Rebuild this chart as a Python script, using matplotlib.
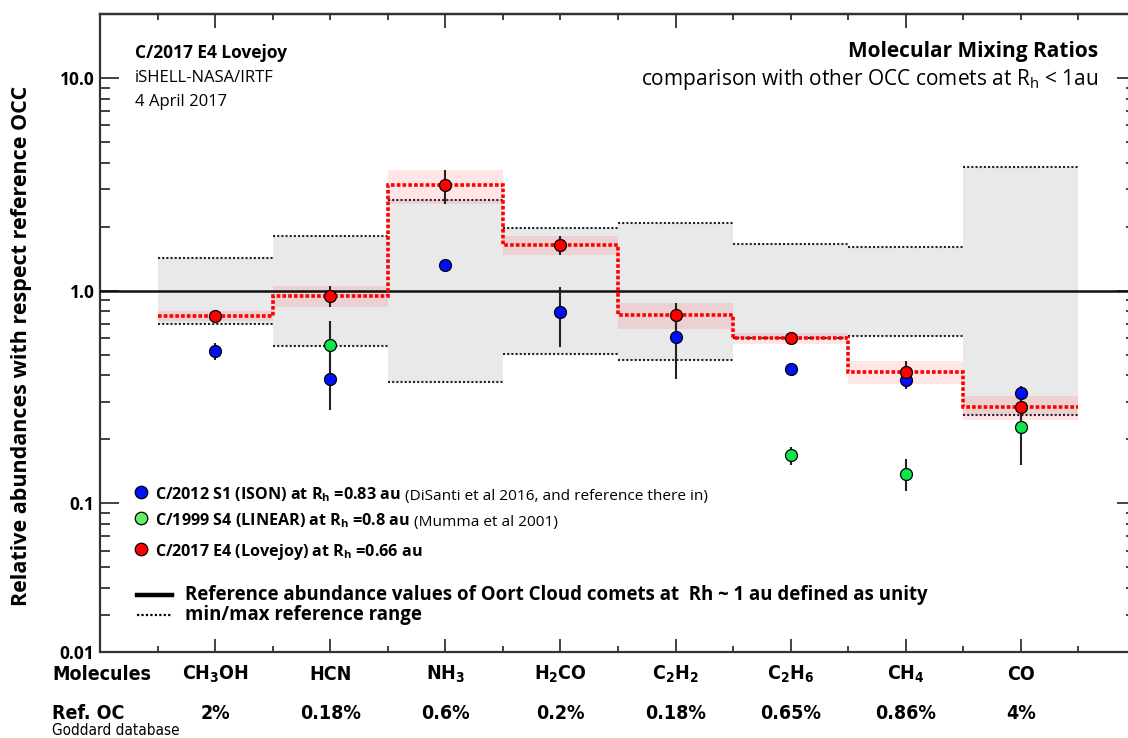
import numpy as np
import matplotlib
matplotlib.use('Agg')
import matplotlib.pyplot as plt
from matplotlib import font_manager
from matplotlib.font_manager import FontProperties
from matplotlib.lines import Line2D
from matplotlib.ticker import FixedLocator, FixedFormatter, NullFormatter

W, H = 1128, 738

plt.rcParams['font.family'] = ['Open Sans', 'DejaVu Sans']
plt.rcParams['mathtext.default'] = 'regular'


def find_narrow(bold):
    for f in font_manager.fontManager.ttflist:
        nm = f.name.lower()
        narrowish = 'narrow' in nm or 'condensed' in nm or 'condensed' in str(f.stretch)
        is_bold = f.weight in (700, 'bold')
        if narrowish and is_bold == bold and f.style == 'normal':
            return f.fname
    return None


def narrow_font(size, bold=True):
    fn = find_narrow(bold)
    if fn:
        return FontProperties(fname=fn, size=size)
    return FontProperties(family='Roboto', weight='bold' if bold else 'normal', size=size * 0.86)


# molecules and reference abundances (Goddard database)
molecules = ['CH$_3$OH', 'HCN', 'NH$_3$', 'H$_2$CO', 'C$_2$H$_2$', 'C$_2$H$_6$', 'CH$_4$', 'CO']
ref_oc = ['2%', '0.18%', '0.6%', '0.2%', '0.18%', '0.65%', '0.86%', '4%']

# min/max reference range of OCC comets (relative to reference)
range_lo = [0.695, 0.547, 0.372, 0.504, 0.474, 0.60, 0.614, 0.259]
range_hi = [1.425, 1.80, 2.67, 1.97, 2.09, 1.657, 1.61, 3.81]

# C/2017 E4 Lovejoy
lovejoy = [0.76, 0.944, 3.13, 1.64, 0.768, 0.597, 0.416, 0.283]
lovejoy_err = [0.04, 0.107, 0.58, 0.164, 0.11, 0.033, 0.05, 0.036]

# C/2012 S1 ISON
ison = [0.52, 0.386, 1.315, 0.794, 0.608, 0.428, 0.382, 0.331]
ison_err = [0.048, 0.11, 0.0, 0.25, 0.224, 0.03, 0.037, 0.025]

# C/1999 S4 LINEAR
linear = [np.nan, 0.553, np.nan, np.nan, np.nan, 0.168, 0.138, 0.229]
linear_err = [np.nan, 0.167, np.nan, np.nan, np.nan, 0.016, 0.024, 0.077]


def fx(x):
    return x / W


def fy(y):
    return 1 - y / H


x = np.arange(1, len(molecules) + 1)
edges = np.arange(0.5, len(molecules) + 1, 1.0)
lo = np.array(range_lo)
hi = np.array(range_hi)
lv = np.array(lovejoy)
lv_err = np.array(lovejoy_err)

fig = plt.figure(figsize=(W / 100, H / 100), dpi=100)
ax = fig.add_axes([fx(100), fy(652), 1036 / W, 638 / H])

ax.bar(x, hi - lo, bottom=lo, width=1, color='#e9e9e9', lw=0, zorder=1)
ax.hlines(hi, edges[:-1], edges[1:], colors='#222222', linestyles=(0, (1, 1)), lw=1.5, zorder=2)
ax.hlines(lo, edges[:-1], edges[1:], colors='#222222', linestyles=(0, (1, 1)), lw=1.5, zorder=2)
ax.bar(x, 2 * lv_err, bottom=lv - lv_err, width=1, color='red', alpha=0.1, lw=0, zorder=3)
ax.axhline(1.0, color='#111111', lw=1.8, zorder=4)
ax.stairs(lv, edges, baseline=None, color='red', lw=2.6, ls=(0, (1, 0.6)), zorder=5)

ebar = dict(fmt='none', ecolor='#222222', elinewidth=1.5, capsize=0, zorder=6)
ax.errorbar(x, ison, yerr=ison_err, **ebar)
ax.errorbar(x, linear, yerr=linear_err, **ebar)
ax.errorbar(x, lv, yerr=lv_err, **ebar)
mk = dict(ls='none', marker='o', ms=8.6, mec='black', mew=0.9, zorder=7)
ax.plot(x, ison, mfc='#0010ff', **mk)
ax.plot(x, linear, mfc='#10e64a', **mk)
ax.plot(x, lv, mfc='#ff0000', **mk)

ax.set_yscale('log')
ax.set_xlim(0, 9)
ax.set_ylim(0.02, 20)
ax.yaxis.set_major_locator(FixedLocator([0.02, 0.1, 1, 10]))
ax.yaxis.set_major_formatter(FixedFormatter(['0.01', '0.1', '1.0', '10.0']))
minors = [m * d for d in (0.01, 0.1, 1) for m in range(2, 10) if m * d > 0.02]
ax.yaxis.set_minor_locator(FixedLocator(minors))
ax.yaxis.set_minor_formatter(NullFormatter())
ax.tick_params(axis='y', which='major', direction='in', length=14, width=1.3,
               left=True, right=True, labelsize=12.5, pad=4, colors='#333333',
               labelcolor='black')
ax.tick_params(axis='y', which='minor', direction='in', length=7, width=1.3,
               left=True, right=True, colors='#333333')
for lab in ax.get_yticklabels():
    lab.set_fontweight('bold')

ax.set_xticks(x)
ax.set_xticks(edges, minor=True)
ax.tick_params(axis='x', which='major', direction='in', length=9.5, width=1.3,
               labelbottom=False, colors='#333333')
ax.tick_params(axis='x', which='minor', direction='in', length=4.5, width=1.3, colors='#333333')
top = ax.secondary_xaxis('top')
top.set_xticks([1, 3, 5, 7])
top.set_xticks([0.5, 1.5, 2, 2.5, 3.5, 4, 4.5, 5.5, 6, 6.5, 7.5, 8, 8.5], minor=True)
top.tick_params(which='major', direction='in', length=10, width=1.3, labeltop=False, colors='#333333')
top.tick_params(which='minor', direction='in', length=4.5, width=1.3, colors='#333333')
top.spines['top'].set_linewidth(1.6)
for s in ax.spines.values():
    s.set_linewidth(1.6)
    s.set_color('#333333')

# molecule names and reference abundances below the axis
xt = ax.get_xaxis_transform()
for xi, name, ref in zip(x, molecules, ref_oc):
    ax.text(xi, -(680 - 652) / 638, name, ha='center', va='baseline',
            fontproperties=narrow_font(14), transform=xt)
    ax.text(xi, -(719 - 652) / 638, ref, ha='center', va='baseline',
            fontproperties=narrow_font(14), transform=xt)
fig.text(fx(52), fy(680), 'Molecules', fontproperties=narrow_font(14), va='baseline')
fig.text(fx(52), fy(719), 'Ref. OC', fontproperties=narrow_font(14), va='baseline')
fig.text(fx(52), fy(735), 'Goddard database', fontproperties=narrow_font(11, bold=False), va='baseline')

fig.text(fx(22), fy(346), 'Relative abundances with respect reference OCC', rotation=90,
         ha='center', va='center', fontsize=15.5, weight='bold')

# header texts
fig.text(fx(135), fy(53), 'C/2017 E4 Lovejoy', fontsize=12.5, weight='bold', va='center')
fig.text(fx(135), fy(78), 'iSHELL-NASA/IRTF', fontsize=12, va='center')
fig.text(fx(135), fy(102), '4 April 2017', fontsize=12, va='center')
fig.text(fx(1098), fy(52), 'Molecular Mixing Ratios', fontsize=15, weight='bold',
         ha='right', va='center')
fig.text(fx(1098), fy(80), 'comparison with other OCC comets at R$_h$ < 1au', fontsize=15,
         ha='right', va='center')

# comet legend
entries = [
    (492, '#0010ff', 'C/2012 S1 (ISON) at R$_h$ =0.83 au', '(DiSanti et al 2016, and reference there in)'),
    (518, '#66ee66', 'C/1999 S4 (LINEAR) at R$_h$ =0.8 au', '(Mumma et al 2001)'),
    (549, '#ff0000', 'C/2017 E4 (Lovejoy) at R$_h$ =0.66 au', ''),
]
for yy, col, bold, note in entries:
    fig.add_artist(Line2D([fx(141)], [fy(yy)], marker='o', ms=9, mfc=col, mec='black',
                          mew=0.9, transform=fig.transFigure))
    t = fig.text(fx(155), fy(yy + 7), bold, fontsize=11.6, weight='bold', va='baseline')
    if note:
        ax.annotate(note, xy=(1, 0), xycoords=t, xytext=(4, 0), textcoords='offset pixels',
                    fontsize=11.1, va='bottom', annotation_clip=False)

fig.add_artist(Line2D([fx(137), fx(172)], [fy(595), fy(595)], color='black', lw=3.2,
                      transform=fig.transFigure))
fig.add_artist(Line2D([fx(137), fx(172)], [fy(615), fy(615)], color='black', lw=1.6,
                      ls=(0, (1, 1)), transform=fig.transFigure))
fig.text(fx(185), fy(595), 'Reference abundance values of Oort Cloud comets at  Rh ~ 1 au defined as unity',
         fontsize=13.4, weight='bold', va='center')
fig.text(fx(185), fy(615), 'min/max reference range', fontsize=13.4, weight='bold', va='center')

fig.savefig('out.png', dpi=100)
